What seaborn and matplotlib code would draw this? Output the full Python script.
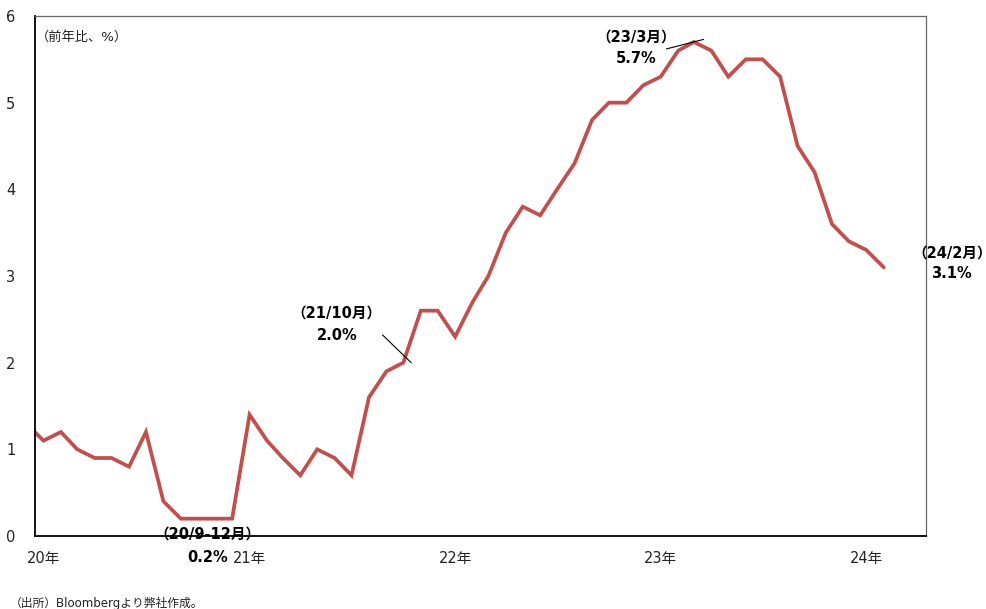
import numpy as np
import pandas as pd
import matplotlib
matplotlib.use("Agg")
import matplotlib.pyplot as plt
import seaborn as sns

# Monthly year-on-year rate (%), Dec 2019 - Feb 2024
months = pd.period_range("2019-12", "2024-02", freq="M")
values = [
    1.3,
    1.1, 1.2, 1.0, 0.9, 0.9, 0.8, 1.2, 0.4, 0.2, 0.2, 0.2, 0.2,
    1.4, 1.1, 0.9, 0.7, 1.0, 0.9, 0.7, 1.6, 1.9, 2.0, 2.6, 2.6,
    2.3, 2.7, 3.0, 3.5, 3.8, 3.7, 4.0, 4.3, 4.8, 5.0, 5.0, 5.2,
    5.3, 5.6, 5.7, 5.6, 5.3, 5.5, 5.5, 5.3, 4.5, 4.2, 3.6, 3.4,
    3.3, 3.1,
]
year_labels = ["20年", "21年", "22年", "23年", "24年"]
year_starts = ["2020-01-01", "2021-01-01", "2022-01-01", "2023-01-01", "2024-01-01"]

# Annotated points: (month, label text, value text)
notes = [
    ("2020-09", "（20/9-12月）", "0.2%"),
    ("2021-10", "（21/10月）", "2.0%"),
    ("2023-03", "（23/3月）", "5.7%"),
    ("2024-02", "（24/2月）", "3.1%"),
]

df = pd.DataFrame({
    "date": months.to_timestamp(how="start") + pd.Timedelta(days=15),
    "value": values,
})

sns.set_style("white")
plt.rcParams["font.family"] = ["DejaVu Sans", "Noto Sans CJK JP"]

fig = plt.figure(figsize=(9.87, 6.09), dpi=100)
ax = fig.add_axes([35 / 987, 1 - 536 / 609, (926 - 35) / 987, (536 - 16) / 609])

sns.lineplot(data=df, x="date", y="value", ax=ax, color="#C0504D",
             linewidth=2.7, solid_joinstyle="miter")

ax.set_xlim(pd.Timestamp("2020-01-01"), pd.Timestamp("2024-05-01"))
ax.set_ylim(0, 6)
ax.set_xlabel("")
ax.set_ylabel("")

# y axis
ax.set_yticks(range(0, 7))
ax.set_yticklabels([str(v) for v in range(0, 7)], fontsize=10.5, color="#222222")
ax.tick_params(axis="y", direction="in", length=4, width=0.8, color="black", pad=14)

# x axis: tick marks at year starts, labels centred on January
ax.set_xticks(pd.to_datetime(year_starts))
ax.set_xticklabels([])
ax.set_xticks(pd.to_datetime(year_starts) + pd.Timedelta(days=15), minor=True)
ax.set_xticklabels(year_labels, minor=True, fontsize=10.5, color="#222222")
ax.tick_params(axis="x", which="major", direction="inout", length=7, width=0.8,
               color="black")
ax.tick_params(axis="x", which="minor", length=0, pad=11)

for side in ["left", "bottom"]:
    ax.spines[side].set_color("black")
    ax.spines[side].set_linewidth(1.3)
for side in ["top", "right"]:
    ax.spines[side].set_color("#666666")
    ax.spines[side].set_linewidth(0.9)

ax.text(0.001, 0.972, "（前年比、%）", transform=ax.transAxes, fontsize=9.5,
        ha="left", va="top", color="#222222")

# annotation text positions (date, label y, value y)
label_pos = {
    "2020-09": (pd.Timestamp("2020-11-02"), 0.02, -0.25),
    "2021-10": (pd.Timestamp("2021-06-20"), 2.57, 2.31),
    "2023-03": (pd.Timestamp("2022-12-04"), 5.76, 5.51),
    "2024-02": (pd.Timestamp("2024-06-16"), 3.27, 3.03),
}
for m, lab, val in notes:
    xt, y1, y2 = label_pos[m]
    ax.text(xt, y1, lab, fontsize=10.5, fontweight="bold", ha="center",
            va="center", clip_on=False, color="black")
    ax.text(xt, y2, val, fontsize=10.5, fontweight="bold", ha="center",
            va="center", clip_on=False, color="black")

# leader lines
ax.plot([pd.Timestamp("2021-09-09"), pd.Timestamp("2021-10-30")],
        [2.32, 2.0], color="black", linewidth=0.8)
ax.plot([pd.Timestamp("2023-01-26"), pd.Timestamp("2023-04-02")],
        [5.62, 5.73], color="black", linewidth=0.8)

fig.text(10 / 987, 1 - 603 / 609, "（出所）Bloombergより弊社作成。", fontsize=8.5,
         color="#222222", ha="left", va="center")

fig.savefig("out.png", dpi=100)
